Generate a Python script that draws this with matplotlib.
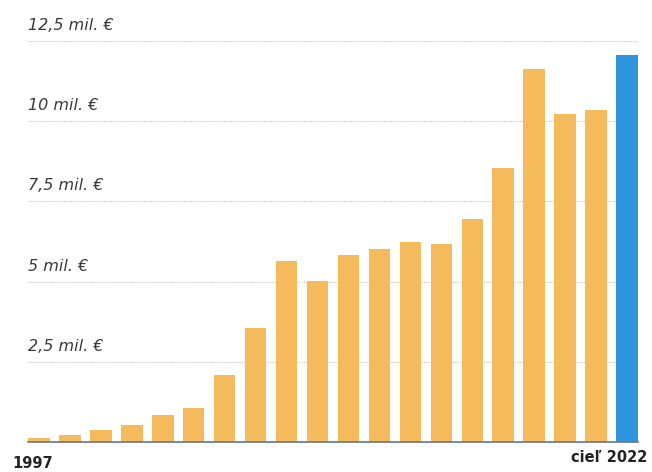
import matplotlib.pyplot as plt

# values in mil. EUR (last bar = target for 2022)
values = [0.12, 0.21, 0.37, 0.52, 0.83, 1.07, 2.10, 3.54, 5.64, 5.03,
          5.82, 6.03, 6.23, 6.16, 6.95, 8.54, 11.64, 10.24, 10.34, 12.07]
colors = ['#F4BA5C'] * (len(values) - 1) + ['#2E95DE']
yticks = [2.5, 5, 7.5, 10, 12.5]
ytick_labels = ['2,5 mil. €', '5 mil. €', '7,5 mil. €', '10 mil. €', '12,5 mil. €']
first_label = '1997'
last_label = 'cieľ 2022'

fig = plt.figure(figsize=(6.52, 4.72), dpi=100)
ax = fig.add_axes([28 / 652, 1 - 442 / 472, 610 / 652, 401 / 472])

x = list(range(len(values)))
ax.bar(x, values, width=0.7, color=colors, zorder=3)

# dotted gridlines with labels sitting on top of them
for t, lab in zip(yticks, ytick_labels):
    ax.axhline(t, color='#c8c8c8', lw=0.8, ls=(0, (1, 1)), zorder=1)
    ax.text(-0.35, t + 0.25, lab, fontsize=11.5, style='italic', color='#3a3a3a',
            ha='left', va='bottom', family='DejaVu Sans')

ax.axhline(0, color='#667788', lw=1.2, zorder=4, clip_on=False)

ax.set_xlim(-0.35, len(values) - 1 + 0.35)
ax.set_ylim(0, 12.5)
ax.axis('off')

fig.text(12 / 652, 1 - 464 / 472, first_label, fontsize=10.5, fontweight='bold',
         color='#222222', ha='left', va='center', family='DejaVu Sans')
fig.text(647 / 652, 1 - 458 / 472, last_label, fontsize=10.5, fontweight='bold',
         color='#222222', ha='right', va='center', family='DejaVu Sans')

fig.savefig('out.png', dpi=100)
